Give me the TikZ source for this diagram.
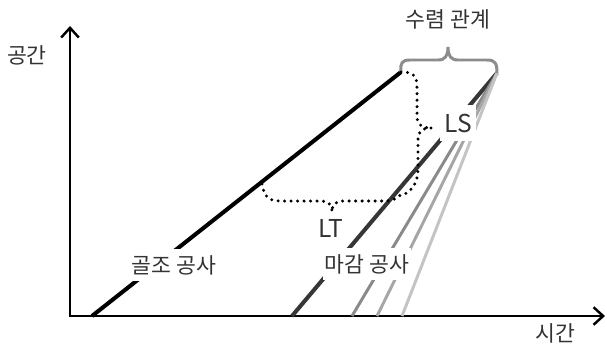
\documentclass[tikz,border=0pt]{standalone}
\usepackage{fontspec}
\setmainfont{Noto Sans CJK KR}
\usetikzlibrary{arrows.meta}
\definecolor{txt}{HTML}{333333}
\definecolor{dark}{HTML}{363636}
\definecolor{grayA}{HTML}{8A8A8A}
\definecolor{grayB}{HTML}{A6A6A6}
\definecolor{grayC}{HTML}{C4C4C4}
\definecolor{brc}{HTML}{8C8C8C}
\begin{document}
\begin{tikzpicture}[x=0.02cm,y=-0.02cm,
  axis/.style={line width=1.4pt,{Straight Barb[length=5.5pt,width=10pt]}-{Straight Barb[length=5.5pt,width=10pt]}},
  work/.style={line width=2.3pt},
  fin/.style={line width=1.7pt},
  lbl/.style={text=txt,font=\fontsize{12.3}{14}\selectfont,inner sep=1pt},
  lat/.style={text=txt,font=\fontsize{14}{16}\selectfont,inner sep=1pt},
  box/.style={fill=white,inner xsep=1pt,minimum height=18pt},
  dotbrace/.style={line width=1.9pt,dash pattern=on 0pt off 3.7pt,line cap=round},
  graybrace/.style={line width=1.7pt,color=brc}]
\useasboundingbox (0,0) rectangle (607,345);
% coordinates
\coordinate (O) at (70,316);
\coordinate (Y) at (70,26);
\coordinate (X) at (605,316);
\coordinate (b0) at (92,316);
\coordinate (b1) at (401,72);
\coordinate (d0) at (292,316);
\coordinate (e1) at (352,316);
\coordinate (e2) at (377,316);
\coordinate (e3) at (402,316);
\coordinate (apex) at (497,73);
\coordinate (lt0) at (262,184);
\coordinate (junc) at (398,196);
% axes
\draw[axis] (Y) -- (O) -- (X);
% work lines
\draw[work,black] (b0) -- (b1);
\draw[work,dark] (d0) -- (apex);
\draw[fin,grayA] (e1) -- (apex);
\draw[fin,grayB] (e2) -- (apex);
\draw[fin,grayC] (e3) -- (apex);
% labels
\node[lbl,box] (gj) at (174,265) {골조 공사};
\node[lbl,box] (mg) at (367,264) {마감 공사};
\node[lat] (lt) at (331,228) {LT};
\node[lat,fill=white,minimum width=20pt,minimum height=21pt] (ls) at (458,123) {LS};
\node[lbl] (sr) at (448,19) {수렴 관계};
\node[lbl] (gg) at (27,55) {공간};
\node[lbl,inner sep=0pt] (sg) at (555,333) {시간};
% convergence brace
\draw[graybrace] (b1) .. controls (400,63) and (402,60) .. (410,60) -- (438,60)
  .. controls (445,60) and (448,56) .. (448,47)
  .. controls (448,56) and (451,60) .. (458,60) -- (487,60)
  .. controls (495,60) and (497,63) .. (apex);
% LS brace
\draw[dotbrace] (b1) .. controls (414,72) and (417,76) .. (417,88) -- (417,116)
  .. controls (417,125) and (422,128) .. (432,128)
  .. controls (422,128) and (418,131) .. (418,140) -- (418,168)
  .. controls (418,185) and (410,194) .. (junc);
% LT brace
\draw[dotbrace] (lt0) .. controls (264,196) and (268,201) .. (280,201) -- (320,201)
  .. controls (328,201) and (332,204) .. (332,212)
  .. controls (332,204) and (336,201) .. (344,201) -- (385,201)
  .. controls (392,201) and (396,199) .. (junc);
\end{tikzpicture}
\end{document}
